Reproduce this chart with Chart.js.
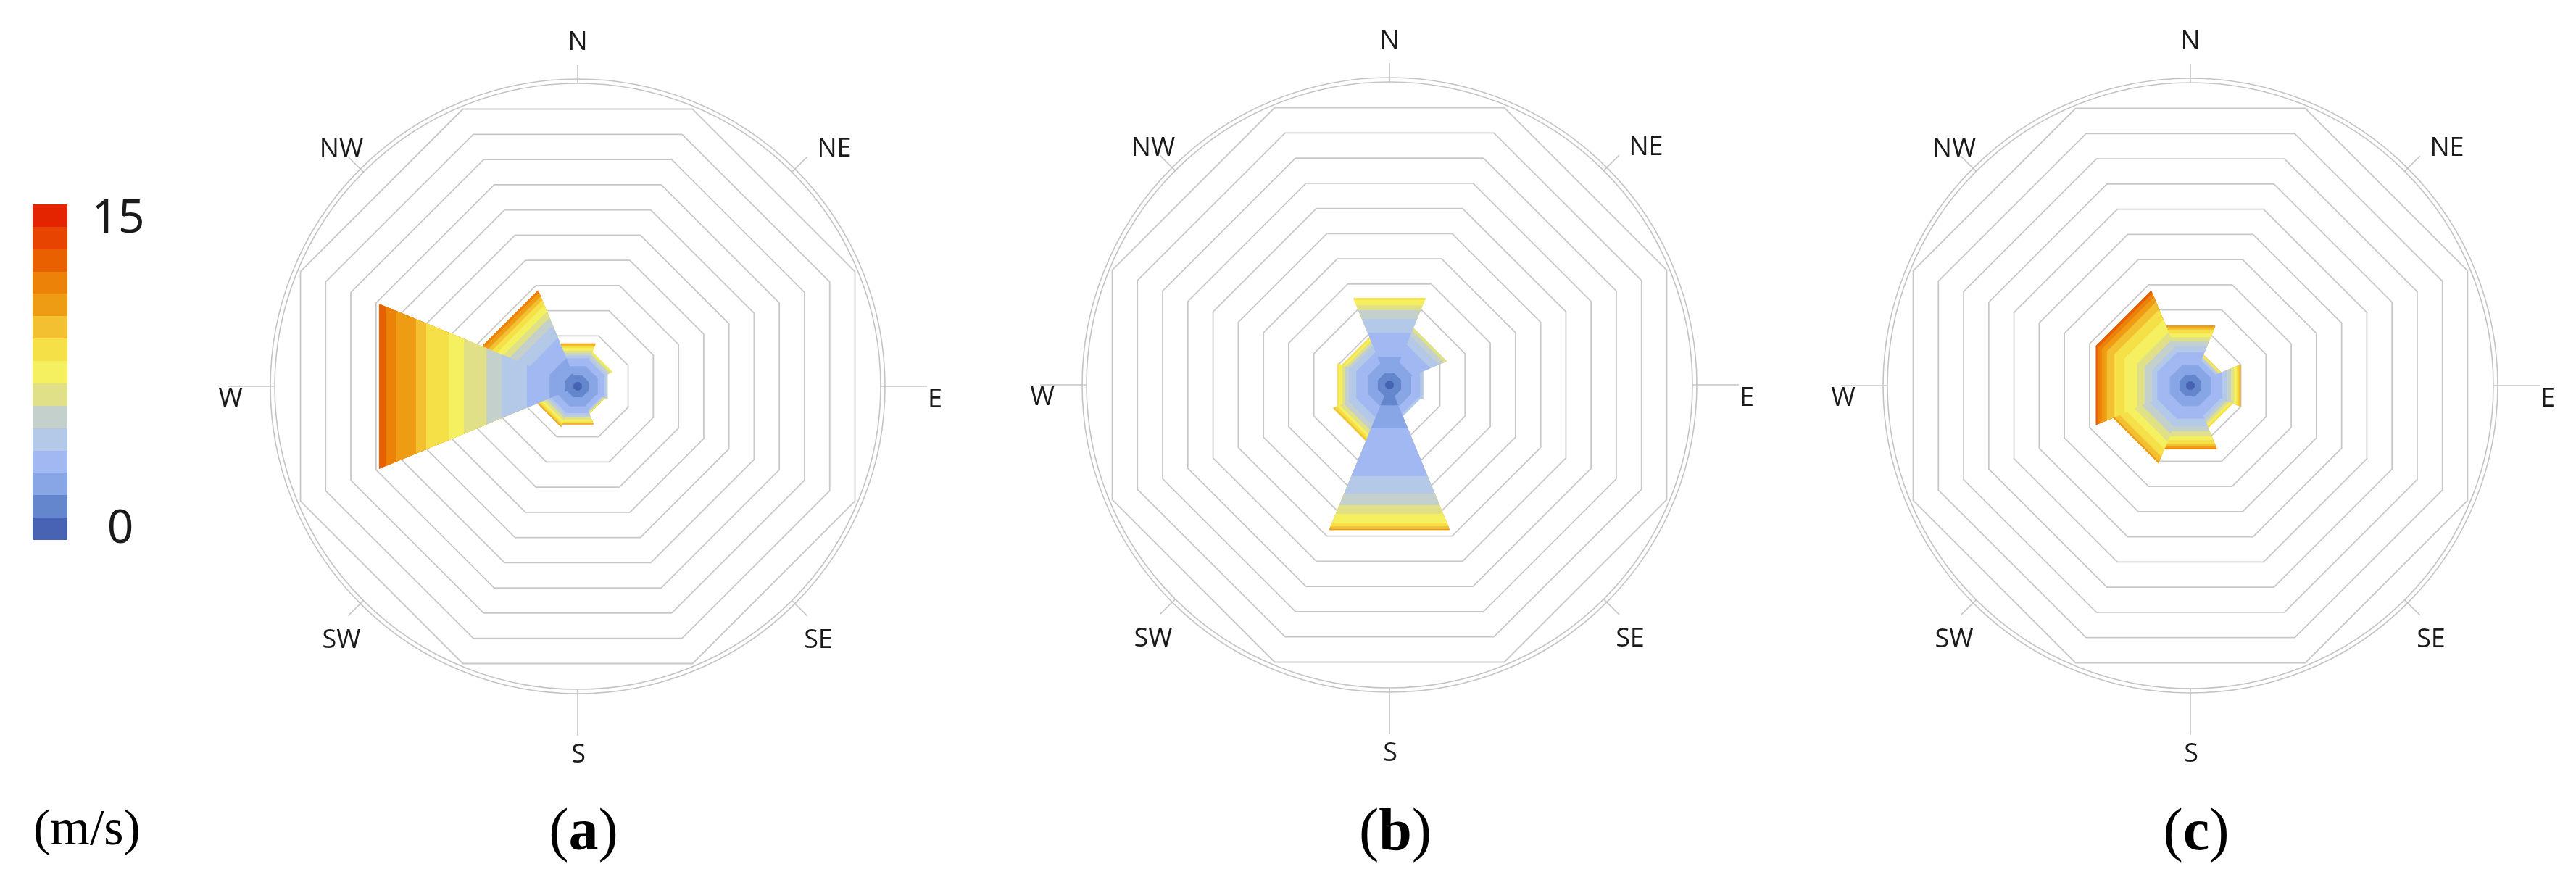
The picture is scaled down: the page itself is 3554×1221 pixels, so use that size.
<!DOCTYPE html>
<html>
<head>
<meta charset="utf-8">
<script src="https://cdn.jsdelivr.net/npm/chart.js@4.4.0/dist/chart.umd.min.js"></script>
<style>
  html, body { margin: 0; padding: 0; background: #fff; }
  body { width: 3554px; height: 1221px; position: relative; overflow: hidden; }
  canvas.rose { position: absolute; }
  .tag { position: absolute; font-family: "Liberation Serif", serif; color: #000;
         transform: translate(-50%, -50%); white-space: nowrap; line-height: 1; }
  .num { position: absolute; font-family: "Noto Sans", "Open Sans", sans-serif; font-size: 64px;
         color: #1a1a1a; transform: translate(-50%, -50%); line-height: 1; }
  #bar { position: absolute; left: 45px; top: 282px; width: 48px; height: 463px; }
</style>
</head>
<body>
<div id="bar"></div>
<div class="num" style="left:163px;top:297px">15</div>
<div class="num" style="left:166px;top:725px">0</div>
<div class="tag" style="left:120px;top:1142px;font-size:70px">(m/s)</div>

<canvas class="rose" id="roseA" width="1100" height="1100"></canvas>
<canvas class="rose" id="roseB" width="1100" height="1100"></canvas>
<canvas class="rose" id="roseC" width="1100" height="1100"></canvas>

<script>
// compass sectors, clockwise from north
const directions = ["N", "NE", "E", "SE", "S", "SW", "W", "NW"];

// one colour per 1 m/s speed band, 0-1 ... 14-15
const bandColors = ["#4862b4", "#6486cc", "#88a6e6", "#a2b8f2", "#b4c8e8",
                    "#c4d0cc", "#e0e088", "#f4f060", "#f6e048", "#f2c030",
                    "#ee9c14", "#ec8208", "#e86000", "#e64400", "#e42400"];
const speedMax = 15;
const ringMax = 11; // grid rings

// cumulative radius (ring units) reached at the end of each 1 m/s band, per direction
const roseA = [
  [0.15, 0.42, 0.78, 1.1, 1.2, 1.3, 1.4, 1.5, 1.58, 1.64, 1.69],           // N
  [0.15, 0.42, 0.78, 1.05, 1.15, 1.25, 1.32, 1.38],                        // NE
  [0.15, 0.42, 0.78, 1.05, 1.12, 1.18],                                    // E
  [0.15, 0.42, 0.75, 0.95, 1.0, 1.03, 1.06, 1.08, 1.1],                    // SE
  [0.15, 0.42, 0.78, 1.05, 1.15, 1.22, 1.3, 1.38, 1.44, 1.47, 1.5],        // S
  [0.15, 0.42, 0.78, 1.05, 1.15, 1.25, 1.35, 1.45, 1.52, 1.57, 1.6],       // SW
  [0.15, 0.5, 1.1, 2.0, 3.0, 3.6, 4.5, 5.1, 6.0, 6.4, 7.2, 7.6, 7.87],     // W
  [0.15, 0.5, 1.1, 1.9, 2.4, 2.7, 2.95, 3.2, 3.4, 3.55, 3.7, 3.8]          // NW
];
const roseB = [
  [0.15, 0.45, 1.1, 2.05, 2.6, 2.95, 3.14, 3.36, 3.43],
  [0.15, 0.45, 0.9, 1.6, 1.95, 2.15, 2.27],
  [0.15, 0.45, 0.85, 1.2, 1.33],
  [0.15, 0.45, 0.85, 1.15, 1.25],
  [0.15, 0.8, 1.7, 3.6, 4.3, 4.75, 5.1, 5.45, 5.6, 5.7, 5.75],
  [0.15, 0.45, 0.85, 1.3, 1.6, 1.8, 1.95, 2.05, 2.15, 2.23],
  [0.15, 0.45, 0.85, 1.3, 1.6, 1.75, 1.85, 1.97, 2.05],
  [0.15, 0.45, 0.85, 1.3, 1.55, 1.65, 1.75, 1.83, 1.89]
];
const roseC = [
  [0.15, 0.42, 0.8, 1.3, 1.55, 1.75, 1.9, 2.05, 2.2, 2.3, 2.37],
  [0.15, 0.42, 0.78, 1.0, 1.07, 1.12, 1.16, 1.19, 1.21, 1.23],
  [0.15, 0.42, 0.8, 1.25, 1.45, 1.6, 1.72, 1.82, 1.9, 1.95, 1.98],
  [0.15, 0.42, 0.8, 1.2, 1.35, 1.45, 1.55, 1.62, 1.69],
  [0.15, 0.42, 0.8, 1.3, 1.6, 1.8, 2.0, 2.15, 2.3, 2.4, 2.47, 2.51],
  [0.15, 0.42, 0.8, 1.3, 1.6, 1.9, 2.2, 2.5, 2.8, 3.0, 3.07],
  [0.15, 0.42, 0.8, 1.3, 1.5, 1.8, 2.1, 2.6, 3.0, 3.3, 3.5, 3.65, 3.74],
  [0.15, 0.42, 0.8, 1.3, 1.5, 1.8, 2.1, 2.6, 3.0, 3.3, 3.5, 3.65, 3.76]
];

const panels = [
  { id: "roseA", data: roseA, cx: 797, cy: 533, tag: "a" },
  { id: "roseB", data: roseB, cx: 1917, cy: 531, tag: "b" },
  { id: "roseC", data: roseC, cx: 3022, cy: 532, tag: "c" }
];

// colour bar
const stops = [];
bandColors.forEach((c, i) => {
  stops.push(c + " " + (i / speedMax * 100) + "%", c + " " + ((i + 1) / speedMax * 100) + "%");
});
document.getElementById("bar").style.background = "linear-gradient(to top, " + stops.join(", ") + ")";

// label placement around each rose (px from centre) and tick lengths past the rim
const labelOffsets = [[0, -474], [354, -327], [493, 19], [332, 351],
                      [1, 509], [-326, 351], [-479, 18], [-326, -326]];
const tickLength = [30, 34, 68, 34, 68, 34, 68, 34];

const compass = {
  id: "compass",
  afterDatasetsDraw(chart) {
    const r = chart.scales.r;
    const ctx = chart.ctx;
    const cx = r.xCenter, cy = r.yCenter, R = r.drawingArea;
    ctx.save();
    ctx.strokeStyle = "#c4c4c4";
    ctx.lineWidth = 1.6;
    [R + 4, R + 10].forEach(rad => {
      ctx.beginPath();
      ctx.arc(cx, cy, rad, 0, Math.PI * 2);
      ctx.stroke();
    });
    ctx.fillStyle = "#1a1a1a";
    ctx.font = '36px "Open Sans", "Noto Sans", sans-serif';
    ctx.textAlign = "center";
    ctx.textBaseline = "middle";
    directions.forEach((d, i) => {
      const a = i * Math.PI / 4;
      const sx = Math.sin(a), sy = -Math.cos(a);
      ctx.beginPath();
      ctx.moveTo(cx + sx * (R + 4), cy + sy * (R + 4));
      ctx.lineTo(cx + sx * (R + tickLength[i]), cy + sy * (R + tickLength[i]));
      ctx.stroke();
      ctx.fillText(d, cx + labelOffsets[i][0], cy + labelOffsets[i][1]);
    });
    ctx.restore();
  }
};

function buildDatasets(rose) {
  const sets = [];
  // smallest band first so it is drawn on top
  for (let k = 0; k < speedMax; k++) {
    rose.forEach((bands, s) => {
      if (k >= bands.length) return;
      const data = new Array(directions.length).fill(0);
      // sector s spans the two vertices either side of its direction
      data[(s + 7) % 8] = bands[k];
      data[s] = bands[k];
      sets.push({
        data: data,
        fill: "origin",
        backgroundColor: bandColors[k],
        borderColor: bandColors[k],
        borderWidth: 1,
        pointRadius: 0,
        tension: 0
      });
    });
  }
  return sets;
}

panels.forEach(p => {
  const cv = document.getElementById(p.id);
  cv.style.left = (p.cx - 550) + "px";
  cv.style.top = (p.cy - 550) + "px";

  new Chart(cv, {
    type: "radar",
    data: {
      labels: ["NNE", "ENE", "ESE", "SSE", "SSW", "WSW", "WNW", "NNW"],
      datasets: buildDatasets(p.data)
    },
    options: {
      responsive: false,
      animation: false,
      layout: { padding: 136 },
      plugins: { legend: { display: false }, tooltip: { enabled: false } },
      scales: {
        r: {
          min: 0,
          max: ringMax,
          startAngle: 22.5,
          ticks: { display: false, stepSize: 1 },
          pointLabels: { display: false },
          angleLines: { display: false },
          grid: { circular: false, color: "#c8c8c8", lineWidth: 1.8 }
        }
      }
    },
    plugins: [compass]
  });

  const tag = document.createElement("div");
  tag.className = "tag";
  tag.style.left = (p.cx + 8) + "px";
  tag.style.top = "1145px";
  tag.style.fontSize = "82px";
  tag.innerHTML = "(<b>" + p.tag + "</b>)";
  document.body.appendChild(tag);
});
</script>
</body>
</html>
